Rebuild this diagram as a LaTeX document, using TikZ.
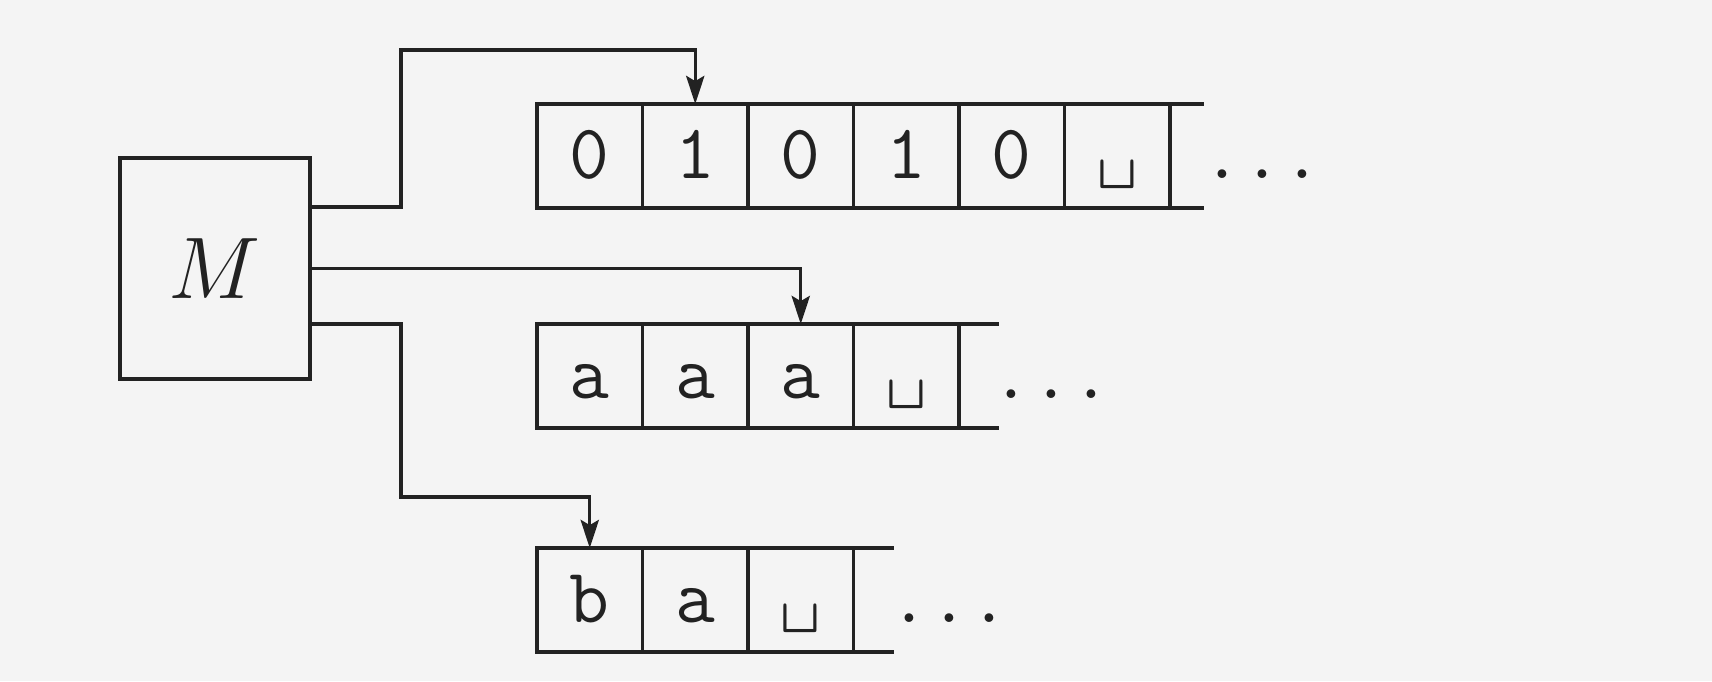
\documentclass[tikz,border=0pt]{standalone}
\usetikzlibrary{arrows.meta}
\definecolor{paper}{RGB}{244,244,244}
\definecolor{ink}{RGB}{34,34,34}
\newcommand{\tapefont}{\fontsize{22}{26}\selectfont\ttfamily}
\newcommand{\machinefont}{\fontsize{30}{34}\selectfont}
\begin{document}
\begin{tikzpicture}[x=0.01cm,y=-0.01cm,
  line width=0.9pt, draw=ink,
  cell/.style={draw=ink, minimum width=1.055cm, minimum height=1.04cm,
    inner sep=0pt, outer sep=0pt, font=\tapefont, text=ink,
    text height=13pt, text depth=0pt},
  machine/.style={draw=ink, minimum width=1.9cm, minimum height=2.21cm,
    inner sep=0pt, outer sep=0pt, font=\machinefont, text=ink},
  dotsnode/.style={font=\tapefont, text=ink, anchor=base, inner sep=0pt},
  head/.style={-{Stealth[length=8pt,width=5.2pt,inset=1.5pt]}, draw=ink}]

% paper
\fill[paper] (0,0) rectangle (1712,681);

% finite control
\node[machine] (M) at (215,268.5) {$M$};

% tape 1
\foreach \s [count=\i] in {0,1,0,1,0,\textvisiblespace}
  \node[cell] (a\i) at (484.25+105.5*\i,156) {\s};
\draw (a6.north east) -- ++(34,0);
\draw (a6.south east) -- ++(34,0);
\node[dotsnode] (da) at ([xshift=0.92cm]a6.base east) {...};

% tape 2
\foreach \s [count=\i] in {a,a,a,\textvisiblespace}
  \node[cell] (b\i) at (484.25+105.5*\i,376) {\s};
\draw (b4.north east) -- ++(40,0);
\draw (b4.south east) -- ++(40,0);
\node[dotsnode] (db) at ([xshift=0.92cm]b4.base east) {...};

% tape 3
\foreach \s [count=\i] in {b,a,\textvisiblespace}
  \node[cell] (c\i) at (484.25+105.5*\i,600) {\s};
\draw (c3.north east) -- ++(40,0);
\draw (c3.south east) -- ++(40,0);
\node[dotsnode] (dc) at ([xshift=0.96cm]c3.base east) {...};

% heads
\coordinate (k1) at (401,50);
\coordinate (k3) at (401,497);
\draw[head] ([yshift=0.615cm]M.east) -| (k1) -| (a2.north);
\draw[head] (M.east) -| (b3.north);
\draw[head] ([yshift=-0.555cm]M.east) -| (k3) -| (c1.north);
\end{tikzpicture}
\end{document}
